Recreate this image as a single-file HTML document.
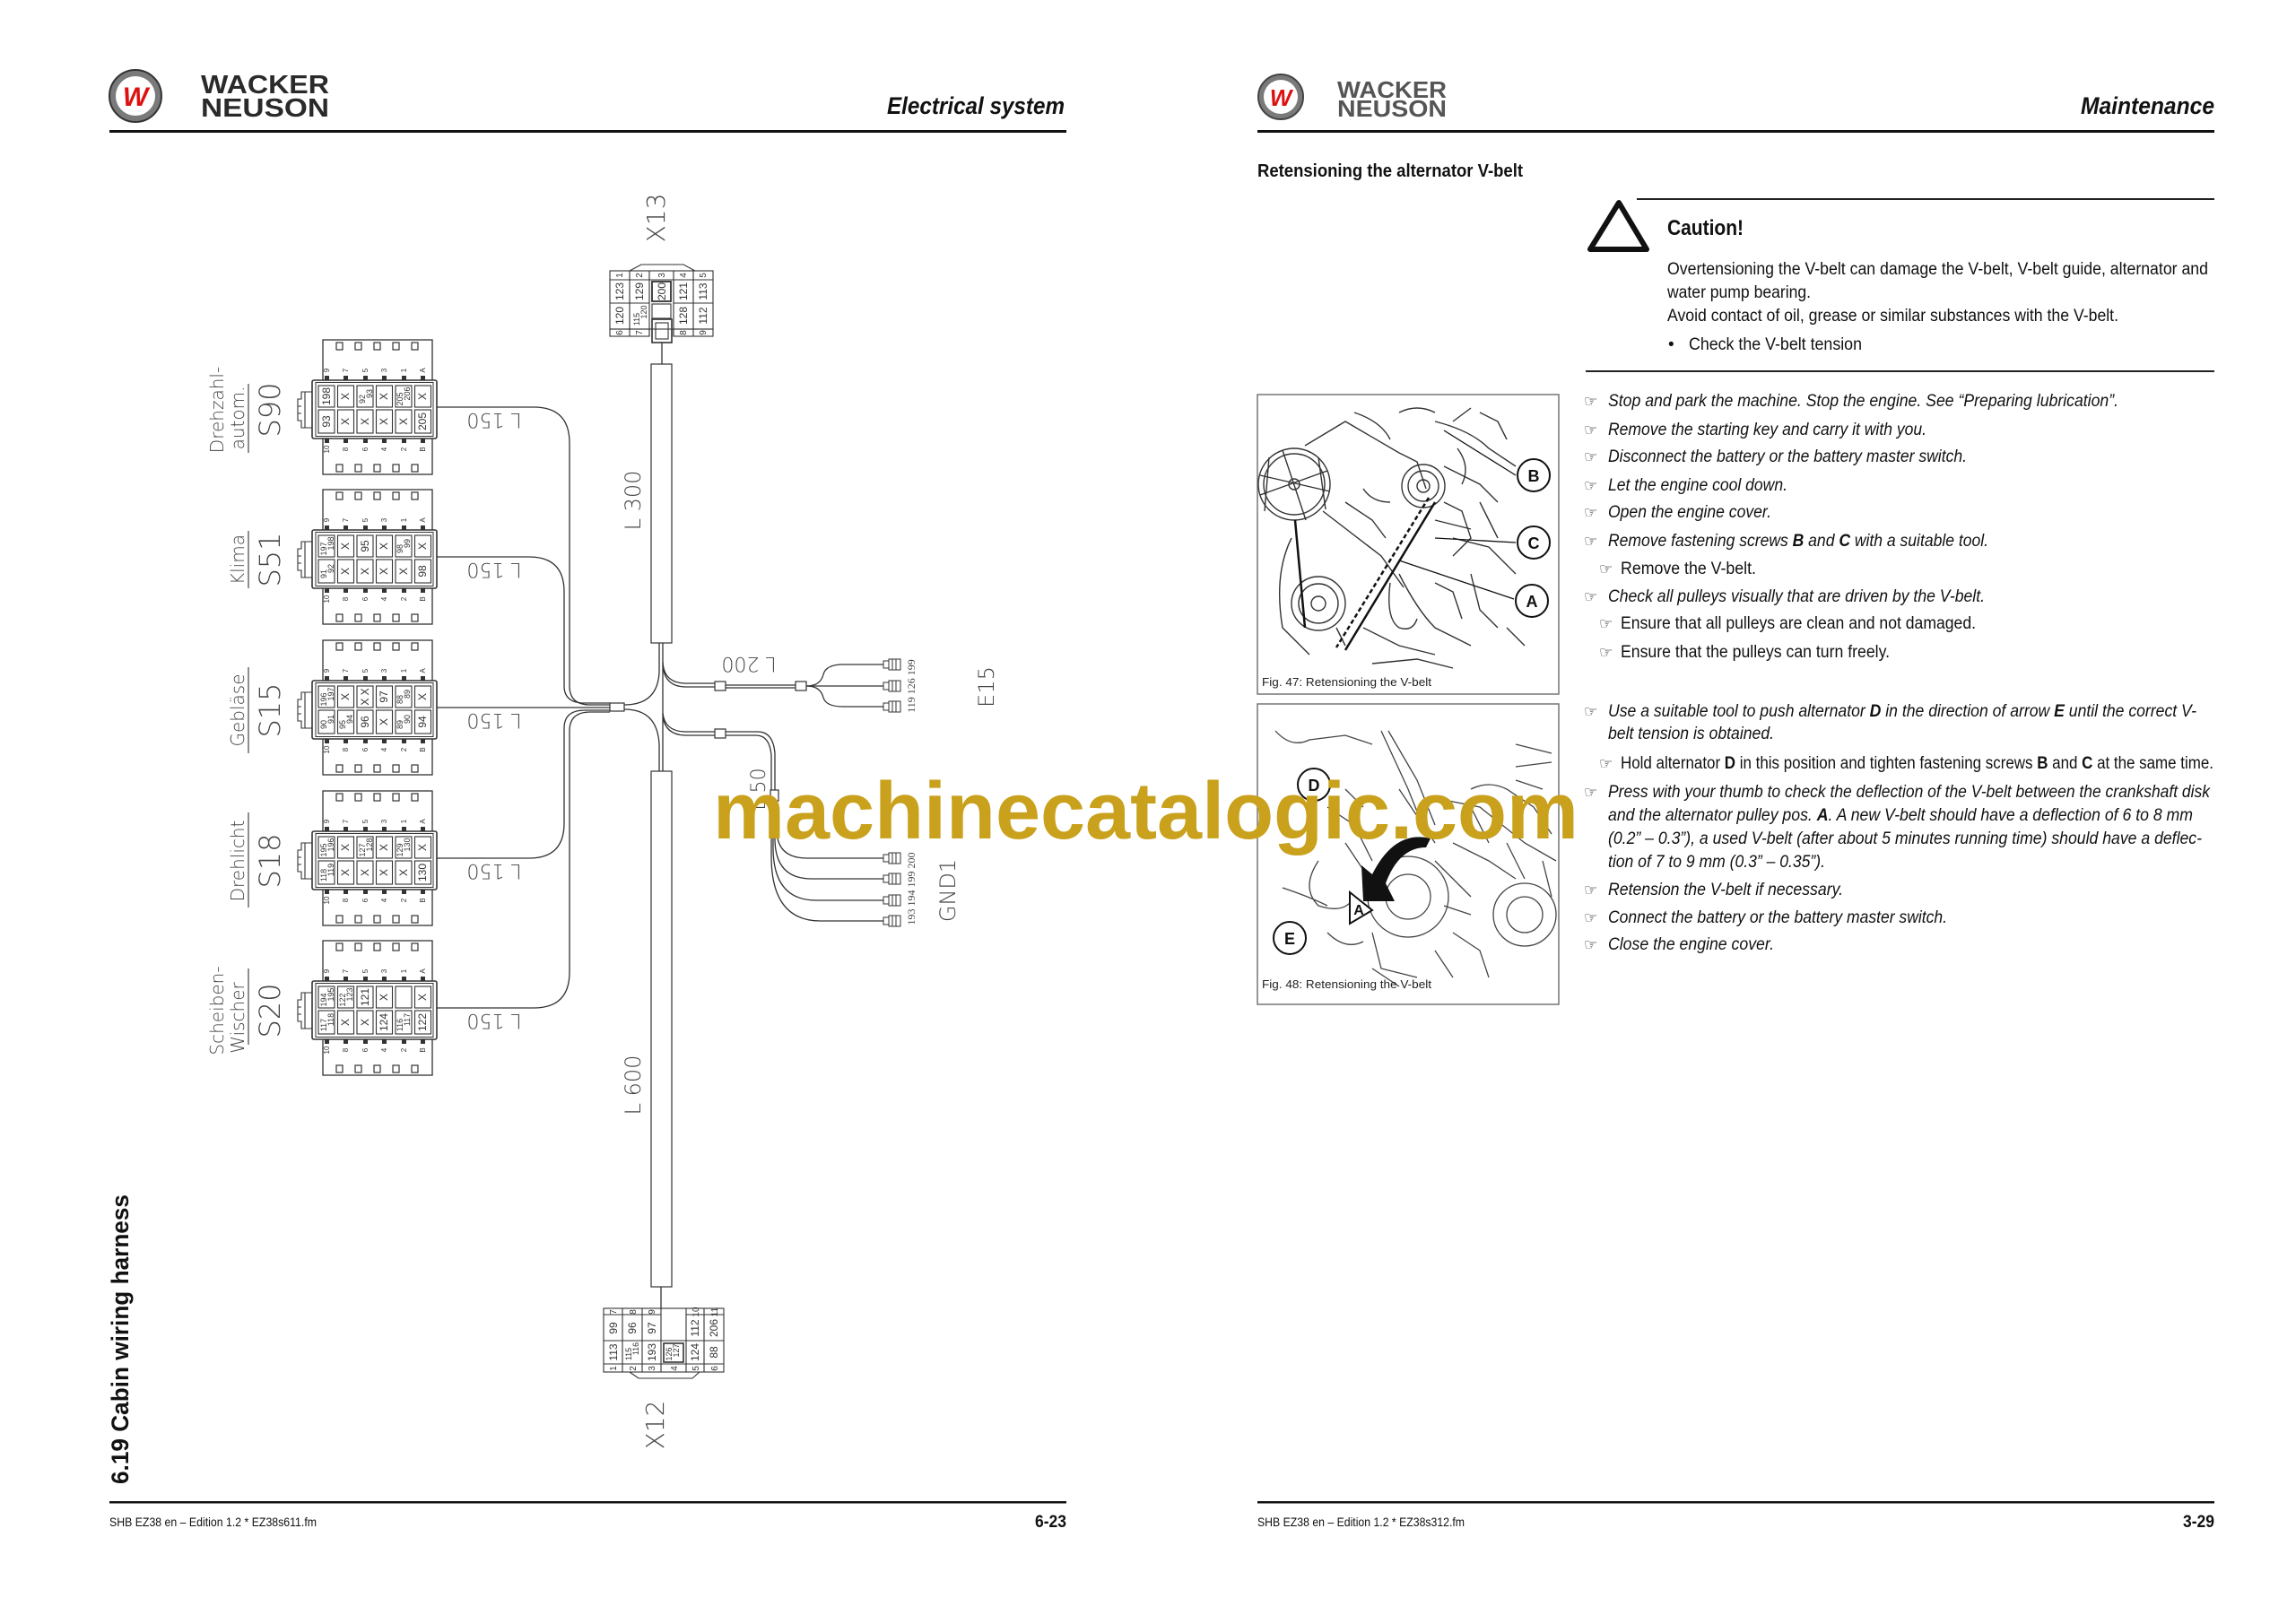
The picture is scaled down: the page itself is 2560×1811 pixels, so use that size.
<!DOCTYPE html>
<html><head><meta charset="utf-8"><style>
html,body{margin:0;padding:0;background:#fff;}
svg{display:block;}
</style></head><body>
<svg width="2560" height="1811" viewBox="0 0 2560 1811" xmlns="http://www.w3.org/2000/svg" font-family="Liberation Sans, Arial, sans-serif">
<defs>
<g id="cb">
  <rect x="0" y="0" width="122" height="150" fill="#fff" stroke="#333" stroke-width="1.3"/>
  <g fill="none" stroke="#333" stroke-width="1.2">
    <rect x="15" y="3" width="7" height="8"/><rect x="36" y="3" width="7" height="8"/><rect x="57" y="3" width="7" height="8"/><rect x="78" y="3" width="7" height="8"/><rect x="99" y="3" width="7" height="8"/>
    <rect x="15" y="139" width="7" height="8"/><rect x="36" y="139" width="7" height="8"/><rect x="57" y="139" width="7" height="8"/><rect x="78" y="139" width="7" height="8"/><rect x="99" y="139" width="7" height="8"/>
  </g>
  <g fill="#333">
    <rect x="2" y="40" width="5" height="5"/><rect x="23" y="40" width="5" height="5"/><rect x="45" y="40" width="5" height="5"/><rect x="66" y="40" width="5" height="5"/><rect x="88" y="40" width="5" height="5"/><rect x="109" y="40" width="5" height="5"/>
    <rect x="2" y="110" width="5" height="5"/><rect x="23" y="110" width="5" height="5"/><rect x="45" y="110" width="5" height="5"/><rect x="66" y="110" width="5" height="5"/><rect x="88" y="110" width="5" height="5"/><rect x="109" y="110" width="5" height="5"/>
  </g>
  <rect x="-12" y="45" width="139" height="65" rx="2" fill="#fff" stroke="#333" stroke-width="1.6"/>
  <rect x="-8" y="47.5" width="131" height="60" fill="none" stroke="#333" stroke-width="1"/>
  <g fill="none" stroke="#333" stroke-width="1.1">
    <rect x="-5" y="51" width="18" height="24"/><rect x="16.5" y="51" width="18" height="24"/><rect x="38" y="51" width="18" height="24"/><rect x="59.5" y="51" width="18" height="24"/><rect x="81" y="51" width="18" height="24"/><rect x="102.5" y="51" width="18" height="24"/>
    <rect x="-5" y="78" width="18" height="26"/><rect x="16.5" y="78" width="18" height="26"/><rect x="38" y="78" width="18" height="26"/><rect x="59.5" y="78" width="18" height="26"/><rect x="81" y="78" width="18" height="26"/><rect x="102.5" y="78" width="18" height="26"/>
    <path d="M-12,58 H-24 V66 H-28 V90 H-24 V98 H-12"/><path d="M-20,58 V98"/><path d="M-28,74 H-24 M-28,82 H-24"/>
  </g>
</g>
</defs>

<!-- ============ LEFT PAGE ============ -->
<circle cx="151" cy="107" r="29" fill="#7a7a7a" stroke="#333" stroke-width="2"/>
<circle cx="151" cy="107" r="22" fill="#fff"/>
<text x="151" y="118" font-size="30" font-weight="bold" font-style="italic" fill="#d11" text-anchor="middle">W</text>
<text x="224" y="104" font-size="29" font-weight="bold" fill="#2a2a2a" textLength="143" lengthAdjust="spacingAndGlyphs">WACKER</text>
<text x="224" y="130" font-size="29" font-weight="bold" fill="#2a2a2a" textLength="143" lengthAdjust="spacingAndGlyphs">NEUSON</text>
<text x="1187" y="127" font-size="27" font-weight="bold" font-style="italic" fill="#111" text-anchor="end" textLength="198" lengthAdjust="spacingAndGlyphs">Electrical system</text>
<rect x="122" y="145" width="1067" height="3" fill="#111"/>

<text transform="translate(143,1655) rotate(-90)" font-size="27" font-weight="bold" fill="#111" textLength="323" lengthAdjust="spacingAndGlyphs">6.19 Cabin wiring harness</text>

<rect x="122" y="1674" width="1067" height="2.5" fill="#111"/>
<text x="122" y="1702" font-size="14" fill="#111" textLength="231" lengthAdjust="spacingAndGlyphs">SHB EZ38 en – Edition 1.2 * EZ38s611.fm</text>
<text x="1189" y="1703" font-size="19" font-weight="bold" fill="#111" text-anchor="end" textLength="35" lengthAdjust="spacingAndGlyphs">6-23</text>

<g fill="none" stroke="#333" stroke-width="1.3">
  <path d="M486,454 H595 Q635,454 635,494 V765 Q635,786 658,786 H680"/>
  <path d="M486,621 H590 Q629,621 629,660 V765 Q629,784 652,784 H680"/>
  <path d="M486,789 H680"/>
  <path d="M486,957 H590 Q629,957 629,918 V812 Q629,792 652,792 H680"/>
  <path d="M486,1124 H595 Q635,1124 635,1084 V815 Q635,794 658,794 H680"/>
  <path d="M696,786 Q733,786 735,750 V717"/>
  <path d="M696,791 Q733,791 735,830 V860"/>
  <path d="M739,717 V860"/>
  <path d="M739,738 Q740,762 765,762 H797"/>
  <path d="M739,742 Q741,766 765,766 H797"/>
  <path d="M809,764 H887"/><path d="M809,767 H887"/>
  <path d="M899,765 Q915,765 918,752 Q921,741 940,741 H985"/>
  <path d="M899,765 H985"/>
  <path d="M899,765 Q915,765 918,778 Q921,788 940,788 H985"/>
  <path d="M739,795 Q741,816 765,816 H797"/>
  <path d="M739,799 Q742,820 765,820 H797"/>
  <path d="M809,816 H845 Q862,816 864,840 V881"/>
  <path d="M809,820 H843 Q858,820 860,842 V881"/>
  <path d="M866,893 V925 Q866,957 900,957 H985"/>
  <path d="M864,893 V935 Q864,980 905,980 H985"/>
  <path d="M862,893 V945 Q862,1004 910,1004 H985"/>
  <path d="M860,893 V955 Q860,1027 915,1027 H985"/>
  <path d="M737,1435 V1459"/>
  <path d="M738,382 V406"/>
</g>
<g fill="#fff" stroke="#333" stroke-width="1.2">
  <rect x="726" y="406" width="23" height="311"/>
  <rect x="726" y="860" width="23" height="575"/>
  <rect x="680" y="784" width="16" height="9"/>
  <rect x="797" y="760" width="12" height="10"/>
  <rect x="887" y="760" width="12" height="10"/>
  <rect x="797" y="813" width="12" height="10"/>
  <rect x="859" y="881" width="9" height="12"/>
</g>
<g fill="#fff" stroke="#333" stroke-width="1">
  <rect x="985" y="737" width="6" height="8"/><rect x="991" y="735" width="13" height="12"/><path d="M995,735 V747 M999,735 V747" />
  <rect x="985" y="761" width="6" height="8"/><rect x="991" y="759" width="13" height="12"/><path d="M995,759 V771 M999,759 V771" />
  <rect x="985" y="784" width="6" height="8"/><rect x="991" y="782" width="13" height="12"/><path d="M995,782 V794 M999,782 V794" />
  <rect x="985" y="953" width="6" height="8"/><rect x="991" y="951" width="13" height="12"/><path d="M995,951 V963 M999,951 V963" />
  <rect x="985" y="976" width="6" height="8"/><rect x="991" y="974" width="13" height="12"/><path d="M995,974 V986 M999,974 V986" />
  <rect x="985" y="1000" width="6" height="8"/><rect x="991" y="998" width="13" height="12"/><path d="M995,998 V1010 M999,998 V1010" />
  <rect x="985" y="1023" width="6" height="8"/><rect x="991" y="1021" width="13" height="12"/><path d="M995,1021 V1033 M999,1021 V1033" />
</g>

<g fill="#444" font-family="DejaVu Sans, Liberation Sans, sans-serif" font-weight="200">
  <text transform="translate(741,243) rotate(-90)" font-size="28" text-anchor="middle">X13</text>
  <text transform="translate(740,1589) rotate(-90)" font-size="28" text-anchor="middle">X12</text>
  <text transform="translate(714,558) rotate(-90)" font-size="24" text-anchor="middle">L 300</text>
  <text transform="translate(714,1210) rotate(-90)" font-size="24" text-anchor="middle">L 600</text>
  <text transform="translate(551,461) rotate(180)" font-size="22" text-anchor="middle">L 150</text>
  <text transform="translate(551,628) rotate(180)" font-size="22" text-anchor="middle">L 150</text>
  <text transform="translate(551,796) rotate(180)" font-size="22" text-anchor="middle">L 150</text>
  <text transform="translate(551,964) rotate(180)" font-size="22" text-anchor="middle">L 150</text>
  <text transform="translate(551,1131) rotate(180)" font-size="22" text-anchor="middle">L 150</text>
  <text transform="translate(835,733) rotate(180)" font-size="22" text-anchor="middle">L 200</text>
  <text transform="translate(853,880) rotate(-90)" font-size="22" text-anchor="middle">L 50</text>
  <text transform="translate(1108,766) rotate(-90)" font-size="24" text-anchor="middle">E15</text>
  <text transform="translate(1065,993) rotate(-90)" font-size="24" text-anchor="middle">GND1</text>
  <text transform="translate(1020,765) rotate(-90)" font-size="12" font-family="Liberation Serif, serif" font-weight="normal" text-anchor="middle">119 126 199</text>
  <text transform="translate(1020,991) rotate(-90)" font-size="12" font-family="Liberation Serif, serif" font-weight="normal" text-anchor="middle">193 194 199 200</text>
</g>

<!-- X13 connector -->
<g fill="none" stroke="#333" stroke-width="1.1">
  <path d="M702,302 L715,295 H762 L775,302"/>
  <rect x="680" y="302" width="115" height="65" fill="#fff"/>
  <path d="M680,312 H795 M680,338 H724 M751,338 H795 M702,302 V375 M724,302 V375 M751,302 V375 M773,302 V375"/>
  <rect x="680" y="367" width="44" height="8"/><rect x="751" y="367" width="44" height="8"/>
  <rect x="727" y="314" width="21" height="22" stroke-width="1.8"/>
  <rect x="727" y="339" width="21" height="16"/>
  <rect x="727" y="356" width="22" height="26" stroke-width="1.6"/><rect x="731" y="360" width="14" height="18"/>
</g>
<g fill="#333" font-size="10" text-anchor="middle">
  <text transform="translate(694,307) rotate(-90)">1</text><text transform="translate(716,307) rotate(-90)">2</text><text transform="translate(741,307) rotate(-90)">3</text><text transform="translate(765,307) rotate(-90)">4</text><text transform="translate(787,307) rotate(-90)">5</text>
  <text transform="translate(695,325) rotate(-90)" font-size="12">123</text><text transform="translate(717,325) rotate(-90)" font-size="12">129</text><text transform="translate(742,325) rotate(-90)" font-size="12">200</text><text transform="translate(766,325) rotate(-90)" font-size="12">121</text><text transform="translate(788,325) rotate(-90)" font-size="12">113</text>
  <text transform="translate(695,352) rotate(-90)" font-size="12">120</text><text transform="translate(713,356) rotate(-90)" font-size="9">115</text><text transform="translate(721,348) rotate(-90)" font-size="9">120</text><text transform="translate(766,352) rotate(-90)" font-size="12">128</text><text transform="translate(788,352) rotate(-90)" font-size="12">112</text>
  <text transform="translate(694,371) rotate(-90)">6</text><text transform="translate(716,371) rotate(-90)">7</text><text transform="translate(765,371) rotate(-90)">8</text><text transform="translate(787,371) rotate(-90)">9</text>
</g>

<!-- X12 connector -->
<g fill="none" stroke="#333" stroke-width="1.1">
  <rect x="673" y="1459" width="134" height="71" fill="#fff"/>
  <path d="M673,1466 H737 M765,1466 H807 M673,1495 H807 M673,1521 H807 M694,1459 V1530 M716,1459 V1530 M737,1459 V1530 M765,1459 V1530 M785,1459 V1530"/>
  <path d="M702,1530 L712,1537 H772 L780,1530"/>
  <rect x="740" y="1498" width="22" height="21" stroke-width="1.6"/>
</g>
<g fill="#333" font-size="10" text-anchor="middle">
  <text transform="translate(687,1463) rotate(-90)">7</text><text transform="translate(709,1463) rotate(-90)">8</text><text transform="translate(730,1463) rotate(-90)">9</text><text transform="translate(779,1463) rotate(-90)">10</text><text transform="translate(800,1463) rotate(-90)">11</text>
  <text transform="translate(688,1481) rotate(-90)" font-size="12">99</text><text transform="translate(709,1481) rotate(-90)" font-size="12">96</text><text transform="translate(731,1481) rotate(-90)" font-size="12">97</text><text transform="translate(779,1481) rotate(-90)" font-size="12">112</text><text transform="translate(800,1481) rotate(-90)" font-size="12">206</text>
  <text transform="translate(688,1508) rotate(-90)" font-size="12">113</text><text transform="translate(704,1510) rotate(-90)" font-size="9">115</text><text transform="translate(712,1504) rotate(-90)" font-size="9">116</text><text transform="translate(731,1508) rotate(-90)" font-size="12">193</text><text transform="translate(749,1510) rotate(-90)" font-size="9">126</text><text transform="translate(757,1506) rotate(-90)" font-size="9">127</text><text transform="translate(779,1508) rotate(-90)" font-size="12">124</text><text transform="translate(800,1508) rotate(-90)" font-size="12">88</text>
  <text transform="translate(687,1526) rotate(-90)">1</text><text transform="translate(709,1526) rotate(-90)">2</text><text transform="translate(730,1526) rotate(-90)">3</text><text transform="translate(755,1526) rotate(-90)">4</text><text transform="translate(779,1526) rotate(-90)">5</text><text transform="translate(800,1526) rotate(-90)">6</text>
</g>

<!-- Switch connectors -->
<g>
<g transform="translate(360,379)">
  <use href="#cb"/>
  <g fill="#333" font-size="8" text-anchor="middle">
    <text transform="translate(7,34) rotate(-90)">9</text><text transform="translate(28,34) rotate(-90)">7</text><text transform="translate(50,34) rotate(-90)">5</text><text transform="translate(71,34) rotate(-90)">3</text><text transform="translate(93,34) rotate(-90)">1</text><text transform="translate(114,34) rotate(-90)">A</text>
    <text transform="translate(7,122) rotate(-90)">10</text><text transform="translate(28,122) rotate(-90)">8</text><text transform="translate(50,122) rotate(-90)">6</text><text transform="translate(71,122) rotate(-90)">4</text><text transform="translate(93,122) rotate(-90)">2</text><text transform="translate(114,122) rotate(-90)">B</text>
    <g font-size="12"><text transform="translate(8,63) rotate(-90)">198</text><text transform="translate(29,63) rotate(-90)">X</text><text transform="translate(47,66) rotate(-90)" font-size="9">92</text><text transform="translate(55,60) rotate(-90)" font-size="9">93</text><text transform="translate(72,63) rotate(-90)">X</text><text transform="translate(89,66) rotate(-90)" font-size="9">205</text><text transform="translate(97,60) rotate(-90)" font-size="9">206</text><text transform="translate(115,63) rotate(-90)">X</text>
    <text transform="translate(8,91) rotate(-90)">93</text><text transform="translate(29,91) rotate(-90)">X</text><text transform="translate(51,91) rotate(-90)">X</text><text transform="translate(72,91) rotate(-90)">X</text><text transform="translate(94,91) rotate(-90)">X</text><text transform="translate(115,91) rotate(-90)">205</text></g>
  </g>
</g>
<g transform="translate(360,546)">
  <use href="#cb"/>
  <g fill="#333" font-size="8" text-anchor="middle">
    <text transform="translate(7,34) rotate(-90)">9</text><text transform="translate(28,34) rotate(-90)">7</text><text transform="translate(50,34) rotate(-90)">5</text><text transform="translate(71,34) rotate(-90)">3</text><text transform="translate(93,34) rotate(-90)">1</text><text transform="translate(114,34) rotate(-90)">A</text>
    <text transform="translate(7,122) rotate(-90)">10</text><text transform="translate(28,122) rotate(-90)">8</text><text transform="translate(50,122) rotate(-90)">6</text><text transform="translate(71,122) rotate(-90)">4</text><text transform="translate(93,122) rotate(-90)">2</text><text transform="translate(114,122) rotate(-90)">B</text>
    <g font-size="12"><text transform="translate(4,66) rotate(-90)" font-size="9">197</text><text transform="translate(12,60) rotate(-90)" font-size="9">198</text><text transform="translate(29,63) rotate(-90)">X</text><text transform="translate(51,63) rotate(-90)">95</text><text transform="translate(72,63) rotate(-90)">X</text><text transform="translate(89,66) rotate(-90)" font-size="9">98</text><text transform="translate(97,60) rotate(-90)" font-size="9">99</text><text transform="translate(115,63) rotate(-90)">X</text>
    <text transform="translate(4,94) rotate(-90)" font-size="9">91</text><text transform="translate(12,88) rotate(-90)" font-size="9">92</text><text transform="translate(29,91) rotate(-90)">X</text><text transform="translate(51,91) rotate(-90)">X</text><text transform="translate(72,91) rotate(-90)">X</text><text transform="translate(94,91) rotate(-90)">X</text><text transform="translate(115,91) rotate(-90)">98</text></g>
  </g>
</g>
<g transform="translate(360,714)">
  <use href="#cb"/>
  <g fill="#333" font-size="8" text-anchor="middle">
    <text transform="translate(7,34) rotate(-90)">9</text><text transform="translate(28,34) rotate(-90)">7</text><text transform="translate(50,34) rotate(-90)">5</text><text transform="translate(71,34) rotate(-90)">3</text><text transform="translate(93,34) rotate(-90)">1</text><text transform="translate(114,34) rotate(-90)">A</text>
    <text transform="translate(7,122) rotate(-90)">10</text><text transform="translate(28,122) rotate(-90)">8</text><text transform="translate(50,122) rotate(-90)">6</text><text transform="translate(71,122) rotate(-90)">4</text><text transform="translate(93,122) rotate(-90)">2</text><text transform="translate(114,122) rotate(-90)">B</text>
    <g font-size="12"><text transform="translate(4,66) rotate(-90)" font-size="9">196</text><text transform="translate(12,60) rotate(-90)" font-size="9">197</text><text transform="translate(29,63) rotate(-90)">X</text><text transform="translate(51,63) rotate(-90)">X X</text><text transform="translate(72,63) rotate(-90)">97</text><text transform="translate(89,66) rotate(-90)" font-size="9">88</text><text transform="translate(97,60) rotate(-90)" font-size="9">89</text><text transform="translate(115,63) rotate(-90)">X</text>
    <text transform="translate(4,94) rotate(-90)" font-size="9">90</text><text transform="translate(12,88) rotate(-90)" font-size="9">91</text><text transform="translate(25,94) rotate(-90)" font-size="9">95</text><text transform="translate(33,88) rotate(-90)" font-size="9">94</text><text transform="translate(51,91) rotate(-90)">96</text><text transform="translate(72,91) rotate(-90)">X</text><text transform="translate(89,94) rotate(-90)" font-size="9">89</text><text transform="translate(97,88) rotate(-90)" font-size="9">90</text><text transform="translate(115,91) rotate(-90)">94</text></g>
  </g>
</g>
<g transform="translate(360,882)">
  <use href="#cb"/>
  <g fill="#333" font-size="8" text-anchor="middle">
    <text transform="translate(7,34) rotate(-90)">9</text><text transform="translate(28,34) rotate(-90)">7</text><text transform="translate(50,34) rotate(-90)">5</text><text transform="translate(71,34) rotate(-90)">3</text><text transform="translate(93,34) rotate(-90)">1</text><text transform="translate(114,34) rotate(-90)">A</text>
    <text transform="translate(7,122) rotate(-90)">10</text><text transform="translate(28,122) rotate(-90)">8</text><text transform="translate(50,122) rotate(-90)">6</text><text transform="translate(71,122) rotate(-90)">4</text><text transform="translate(93,122) rotate(-90)">2</text><text transform="translate(114,122) rotate(-90)">B</text>
    <g font-size="12"><text transform="translate(4,66) rotate(-90)" font-size="9">195</text><text transform="translate(12,60) rotate(-90)" font-size="9">196</text><text transform="translate(29,63) rotate(-90)">X</text><text transform="translate(47,66) rotate(-90)" font-size="9">127</text><text transform="translate(55,60) rotate(-90)" font-size="9">128</text><text transform="translate(72,63) rotate(-90)">X</text><text transform="translate(89,66) rotate(-90)" font-size="9">129</text><text transform="translate(97,60) rotate(-90)" font-size="9">130</text><text transform="translate(115,63) rotate(-90)">X</text>
    <text transform="translate(4,94) rotate(-90)" font-size="9">118</text><text transform="translate(12,88) rotate(-90)" font-size="9">119</text><text transform="translate(29,91) rotate(-90)">X</text><text transform="translate(51,91) rotate(-90)">X</text><text transform="translate(72,91) rotate(-90)">X</text><text transform="translate(94,91) rotate(-90)">X</text><text transform="translate(115,91) rotate(-90)">130</text></g>
  </g>
</g>
<g transform="translate(360,1049)">
  <use href="#cb"/>
  <g fill="#333" font-size="8" text-anchor="middle">
    <text transform="translate(7,34) rotate(-90)">9</text><text transform="translate(28,34) rotate(-90)">7</text><text transform="translate(50,34) rotate(-90)">5</text><text transform="translate(71,34) rotate(-90)">3</text><text transform="translate(93,34) rotate(-90)">1</text><text transform="translate(114,34) rotate(-90)">A</text>
    <text transform="translate(7,122) rotate(-90)">10</text><text transform="translate(28,122) rotate(-90)">8</text><text transform="translate(50,122) rotate(-90)">6</text><text transform="translate(71,122) rotate(-90)">4</text><text transform="translate(93,122) rotate(-90)">2</text><text transform="translate(114,122) rotate(-90)">B</text>
    <g font-size="12"><text transform="translate(4,66) rotate(-90)" font-size="9">194</text><text transform="translate(12,60) rotate(-90)" font-size="9">195</text><text transform="translate(25,66) rotate(-90)" font-size="9">122</text><text transform="translate(33,60) rotate(-90)" font-size="9">123</text><text transform="translate(51,63) rotate(-90)">121</text><text transform="translate(72,63) rotate(-90)">X</text><text transform="translate(115,63) rotate(-90)">X</text>
    <text transform="translate(4,94) rotate(-90)" font-size="9">117</text><text transform="translate(12,88) rotate(-90)" font-size="9">118</text><text transform="translate(29,91) rotate(-90)">X</text><text transform="translate(51,91) rotate(-90)">X</text><text transform="translate(72,91) rotate(-90)">124</text><text transform="translate(89,94) rotate(-90)" font-size="9">116</text><text transform="translate(97,88) rotate(-90)" font-size="9">117</text><text transform="translate(115,91) rotate(-90)">122</text></g>
  </g>
</g>
</g>

<g fill="#444" font-family="DejaVu Sans, Liberation Sans, sans-serif" font-weight="200" text-anchor="middle">
  <text transform="translate(249,457) rotate(-90)" font-size="20">Drehzahl-</text>
  <text transform="translate(272,466) rotate(-90)" font-size="20">autom.</text>
  <text transform="translate(312,457) rotate(-90)" font-size="32">S90</text>
  <text transform="translate(272,624) rotate(-90)" font-size="20">Klima</text>
  <text transform="translate(312,624) rotate(-90)" font-size="32">S51</text>
  <text transform="translate(272,792) rotate(-90)" font-size="20">Gebläse</text>
  <text transform="translate(312,792) rotate(-90)" font-size="32">S15</text>
  <text transform="translate(272,960) rotate(-90)" font-size="20">Drehlicht</text>
  <text transform="translate(312,960) rotate(-90)" font-size="32">S18</text>
  <text transform="translate(249,1127) rotate(-90)" font-size="20">Scheiben-</text>
  <text transform="translate(272,1135) rotate(-90)" font-size="20">Wischer</text>
  <text transform="translate(312,1127) rotate(-90)" font-size="32">S20</text>
</g>
<g stroke="#444" stroke-width="1.2">
  <path d="M277,428 V505 M277,592 V656 M277,744 V840 M277,906 V1012 M277,1080 V1165"/>
</g>

<!-- ============ RIGHT PAGE ============ -->
<circle cx="1428" cy="108" r="25" fill="#7a7a7a" stroke="#444" stroke-width="2"/>
<circle cx="1428" cy="108" r="19" fill="#fff"/>
<text x="1428" y="118" font-size="26" font-weight="bold" font-style="italic" fill="#d11" text-anchor="middle">W</text>
<text x="1491" y="109" font-size="26" font-weight="bold" fill="#555" textLength="122" lengthAdjust="spacingAndGlyphs">WACKER</text>
<text x="1491" y="130" font-size="26" font-weight="bold" fill="#555" textLength="122" lengthAdjust="spacingAndGlyphs">NEUSON</text>
<text x="2469" y="127" font-size="27" font-weight="bold" font-style="italic" fill="#111" text-anchor="end" textLength="149" lengthAdjust="spacingAndGlyphs">Maintenance</text>
<rect x="1402" y="145" width="1067" height="3" fill="#111"/>

<text x="1402" y="197" font-size="20" font-weight="bold" fill="#111" textLength="296" lengthAdjust="spacingAndGlyphs">Retensioning the alternator V-belt</text>

<path d="M1805,226 L1836,278 H1773 Z" fill="none" stroke="#111" stroke-width="6" stroke-linejoin="round"/>
<rect x="1825" y="221" width="644" height="2" fill="#222"/>
<text x="1859" y="262" font-size="24" font-weight="bold" fill="#111" textLength="85" lengthAdjust="spacingAndGlyphs">Caution!</text>
<g font-size="19" fill="#111">
  <text x="1859" y="306" textLength="603" lengthAdjust="spacingAndGlyphs">Overtensioning the V-belt can damage the V-belt, V-belt guide, alternator and</text>
  <text x="1859" y="332" textLength="160" lengthAdjust="spacingAndGlyphs">water pump bearing.</text>
  <text x="1859" y="358" textLength="503" lengthAdjust="spacingAndGlyphs">Avoid contact of oil, grease or similar substances with the V-belt.</text>
  <text x="1860" y="390">•</text>
  <text x="1883" y="390" textLength="193" lengthAdjust="spacingAndGlyphs">Check the V-belt tension</text>
</g>
<rect x="1768" y="413" width="701" height="2" fill="#222"/>

<g font-size="19" fill="#111">
  <g font-size="17" fill="#222" font-family="DejaVu Sans, sans-serif" font-weight="bold">
    <text x="1766" y="453">☞</text><text x="1766" y="485">☞</text><text x="1766" y="515">☞</text><text x="1766" y="547">☞</text><text x="1766" y="577">☞</text><text x="1766" y="609">☞</text>
    <text x="1783" y="640">☞</text><text x="1766" y="671">☞</text><text x="1783" y="701">☞</text><text x="1783" y="733">☞</text>
    <text x="1766" y="799">☞</text><text x="1783" y="857">☞</text><text x="1766" y="889">☞</text><text x="1766" y="998">☞</text><text x="1766" y="1029">☞</text><text x="1766" y="1059">☞</text>
  </g>
  <g font-style="italic">
    <text x="1793" y="453" textLength="569" lengthAdjust="spacingAndGlyphs">Stop and park the machine. Stop the engine. See “Preparing lubrication”.</text>
    <text x="1793" y="485" textLength="355" lengthAdjust="spacingAndGlyphs">Remove the starting key and carry it with you.</text>
    <text x="1793" y="515" textLength="400" lengthAdjust="spacingAndGlyphs">Disconnect the battery or the battery master switch.</text>
    <text x="1793" y="547" textLength="200" lengthAdjust="spacingAndGlyphs">Let the engine cool down.</text>
    <text x="1793" y="577" textLength="182" lengthAdjust="spacingAndGlyphs">Open the engine cover.</text>
    <text x="1793" y="609" textLength="424" lengthAdjust="spacingAndGlyphs">Remove fastening screws <tspan font-weight="bold">B</tspan> and <tspan font-weight="bold">C</tspan> with a suitable tool.</text>
    <text x="1793" y="671" textLength="420" lengthAdjust="spacingAndGlyphs">Check all pulleys visually that are driven by the V-belt.</text>
    <text x="1793" y="799" textLength="656" lengthAdjust="spacingAndGlyphs">Use a suitable tool to push alternator <tspan font-weight="bold">D</tspan> in the direction of arrow <tspan font-weight="bold">E</tspan> until the correct V-</text>
    <text x="1793" y="824" textLength="185" lengthAdjust="spacingAndGlyphs">belt tension is obtained.</text>
    <text x="1793" y="889" textLength="671" lengthAdjust="spacingAndGlyphs">Press with your thumb to check the deflection of the V-belt between the crankshaft disk</text>
    <text x="1793" y="915" textLength="652" lengthAdjust="spacingAndGlyphs">and the alternator pulley pos. <tspan font-weight="bold">A</tspan>. A new V-belt should have a deflection of 6 to 8 mm</text>
    <text x="1793" y="941" textLength="662" lengthAdjust="spacingAndGlyphs">(0.2” – 0.3”), a used V-belt (after about 5 minutes running time) should have a deflec-</text>
    <text x="1793" y="967" textLength="242" lengthAdjust="spacingAndGlyphs">tion of 7 to 9 mm (0.3” – 0.35”).</text>
    <text x="1793" y="998" textLength="262" lengthAdjust="spacingAndGlyphs">Retension the V-belt if necessary.</text>
    <text x="1793" y="1029" textLength="378" lengthAdjust="spacingAndGlyphs">Connect the battery or the battery master switch.</text>
    <text x="1793" y="1059" textLength="185" lengthAdjust="spacingAndGlyphs">Close the engine cover.</text>
  </g>
  <text x="1807" y="640" textLength="151" lengthAdjust="spacingAndGlyphs">Remove the V-belt.</text>
  <text x="1807" y="701" textLength="396" lengthAdjust="spacingAndGlyphs">Ensure that all pulleys are clean and not damaged.</text>
  <text x="1807" y="733" textLength="300" lengthAdjust="spacingAndGlyphs">Ensure that the pulleys can turn freely.</text>
  <text x="1807" y="857" textLength="661" lengthAdjust="spacingAndGlyphs">Hold alternator <tspan font-weight="bold">D</tspan> in this position and tighten fastening screws <tspan font-weight="bold">B</tspan> and <tspan font-weight="bold">C</tspan> at the same time.</text>
</g>

<!-- Figure 47 -->
<rect x="1402" y="440" width="336" height="334" fill="#fff" stroke="#777" stroke-width="1.5"/>
<g fill="none" stroke="#333" stroke-width="1.4">
  <circle cx="1443" cy="540" r="40"/><circle cx="1443" cy="540" r="34"/><circle cx="1443" cy="540" r="6"/>
  <path d="M1415,510 L1410,570 M1470,510 L1478,568 M1430,502 L1456,580 M1405,530 L1483,548 M1405,552 L1480,525"/>
  <path d="M1455,497 L1500,470 L1560,505 L1580,515 L1590,545"/>
  <circle cx="1587" cy="542" r="24"/><circle cx="1587" cy="542" r="17"/><circle cx="1587" cy="542" r="7"/>
  <circle cx="1470" cy="673" r="30"/><circle cx="1470" cy="673" r="22"/><circle cx="1470" cy="673" r="8"/>
  <path d="M1475,570 L1540,620 L1565,655"/>
  <path d="M1440,600 Q1420,640 1430,700 L1460,730"/>
  <path d="M1510,460 Q1540,470 1550,490 M1600,470 Q1640,480 1660,500 L1690,520 M1610,520 L1650,540 L1670,560 M1620,600 L1660,610 L1690,640 M1560,640 Q1580,680 1600,700 L1640,720 M1520,700 L1560,720 L1600,730 M1620,470 L1640,455 M1650,560 L1670,600 M1600,580 L1640,590"/>
  <path d="M1550,650 Q1545,690 1560,700 Q1575,705 1580,690"/>
  <path d="M1500,560 L1530,580 L1545,600 M1520,545 Q1530,560 1550,560 M1610,560 L1630,570 L1640,600 L1620,620 M1650,460 L1670,470 L1680,490 M1560,460 Q1580,450 1600,460 M1625,500 Q1640,520 1630,540 M1490,700 L1500,720 M1600,650 L1620,660 L1630,690 M1640,640 L1650,680 L1670,700 M1680,700 L1700,720 M1530,740 L1580,735 L1620,745"/>
</g>
<g fill="none" stroke="#111" stroke-width="2.5">
  <path d="M1600,560 L1500,725"/>
  <path d="M1593,555 L1490,722" stroke-dasharray="5,3"/>
  <path d="M1444,580 L1455,700"/>
</g>
<g fill="none" stroke="#111" stroke-width="1.3">
  <path d="M1690,530 L1610,480 M1690,605 L1600,600 M1688,668 L1560,625"/>
</g>
<g fill="#fff" stroke="#111" stroke-width="2">
  <circle cx="1710" cy="530" r="18"/><circle cx="1710" cy="605" r="18"/><circle cx="1708" cy="670" r="18"/>
</g>
<g font-size="18" font-weight="bold" fill="#111" text-anchor="middle">
  <text x="1710" y="537">B</text><text x="1710" y="612">C</text><text x="1708" y="677">A</text>
</g>
<text x="1407" y="765" font-size="13" fill="#222" textLength="189" lengthAdjust="spacingAndGlyphs">Fig. 47:    Retensioning the V-belt</text>

<!-- Figure 48 -->
<rect x="1402" y="785" width="336" height="335" fill="#fff" stroke="#777" stroke-width="1.5"/>
<g fill="none" stroke="#444" stroke-width="1.3">
  <path d="M1422,815 Q1440,835 1460,825 L1500,820 L1530,830 M1540,815 L1570,880 L1590,930 M1548,815 L1580,870 L1600,920"/>
  <path d="M1690,830 L1730,840 M1690,855 L1730,850 M1690,870 L1720,880"/>
  <path d="M1640,880 Q1660,870 1680,880 L1710,900 L1730,930 M1600,890 L1650,900 L1700,940 L1735,960"/>
  <circle cx="1570" cy="1000" r="45"/><circle cx="1570" cy="1000" r="25"/>
  <circle cx="1700" cy="1020" r="35"/><circle cx="1700" cy="1020" r="20"/>
  <path d="M1470,960 Q1450,990 1470,1010 Q1500,1020 1510,1000 M1430,990 Q1460,1000 1480,1010"/>
  <path d="M1620,940 L1660,960 L1690,980 M1620,1040 L1650,1060 L1660,1090 M1530,1040 L1540,1080 L1580,1090"/>
  <path d="M1480,900 L1510,920 L1530,960 M1500,880 L1520,900"/>
  <path d="M1600,960 L1640,1000 M1610,1010 L1640,1020 M1500,940 L1520,970 M1560,880 L1600,940 M1640,900 L1660,940 M1680,940 L1700,980 M1720,960 L1730,1000 M1530,1080 L1560,1100 M1600,1060 L1620,1090 M1480,1040 Q1500,1060 1520,1050"/>
</g>
<path d="M1530,975 Q1555,925 1595,935 L1590,945 Q1560,945 1545,985 L1555,1005 L1520,1005 L1518,965 Z" fill="#111"/>
<path d="M1505,995 L1530,1015 L1505,1030 Z" fill="#fff" stroke="#111" stroke-width="2"/>
<text x="1515" y="1020" font-size="16" font-weight="bold" fill="#111" text-anchor="middle">A</text>
<g fill="#fff" stroke="#111" stroke-width="2">
  <circle cx="1465" cy="875" r="18"/><circle cx="1438" cy="1046" r="18"/>
</g>
<g font-size="18" font-weight="bold" fill="#111" text-anchor="middle">
  <text x="1465" y="882">D</text><text x="1438" y="1053">E</text>
</g>
<text x="1407" y="1102" font-size="13" fill="#222" textLength="189" lengthAdjust="spacingAndGlyphs">Fig. 48:    Retensioning the V-belt</text>

<rect x="1402" y="1674" width="1067" height="2.5" fill="#111"/>
<text x="1402" y="1702" font-size="14" fill="#111" textLength="231" lengthAdjust="spacingAndGlyphs">SHB EZ38 en – Edition 1.2 * EZ38s312.fm</text>
<text x="2469" y="1703" font-size="19" font-weight="bold" fill="#111" text-anchor="end" textLength="35" lengthAdjust="spacingAndGlyphs">3-29</text>

<text x="795" y="935" font-size="90" font-weight="bold" fill="#c9a11c" textLength="965" lengthAdjust="spacingAndGlyphs">machinecatalogic.com</text>
</svg>
</body></html>
